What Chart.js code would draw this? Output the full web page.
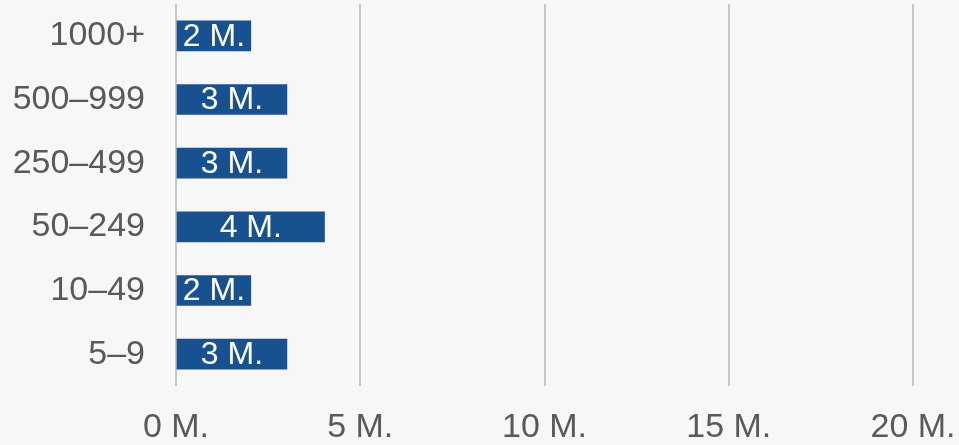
<!DOCTYPE html>
<html>
<head>
<meta charset="utf-8">
<script src="https://cdn.jsdelivr.net/npm/chart.js@4"></script>
<style>
    html, body { margin: 0; padding: 0; background: #f7f7f7; }
    #wrap { width: 959px; height: 445px; position: relative; }
</style>
</head>
<body>
<div id="wrap"><canvas id="chartTamano"></canvas></div>
<script>

    // Datos
    const categorias = ["1000+", "500–999", "250–499", "50–249", "10–49", "5–9"];

    const valores = [2030000, 3010000, 3010000, 4030000, 2030000, 3010000];

    const ticksEje = [0, 5000000, 10000000, 15000000, 20000000];


    const colores = {
        barra: "#17518f",
        texto: "#595959",
        grilla: "#c6c6c6"
    };

    Chart.defaults.font.family = "'Liberation Sans', Arial, sans-serif";

    Chart.defaults.font.size = 34;

    Chart.defaults.color = colores.texto;


    function formatoM(v) {
        return Math.round(v / 1000000) + " M.";
    }


    // Etiquetas blancas dentro de cada barra
    const etiquetasBarras = {
        id: "etiquetasBarras",
        afterDatasetsDraw(chart) {
            const ctx = chart.ctx;
            const meta = chart.getDatasetMeta(0);
            ctx.save();
            ctx.font = "32px 'Liberation Sans', Arial, sans-serif";
            ctx.fillStyle = "#ffffff";
            ctx.textAlign = "center";
            ctx.textBaseline = "middle";
            meta.data.forEach((bar, i) => {
                const x = (bar.base + bar.x) / 2;
                ctx.fillText(formatoM(valores[i]), x, bar.y + 1);
            });
            ctx.restore();
        }
    };


    new Chart(document.getElementById("chartTamano"), {

        type: "bar",

        data: {
            labels: categorias,
            datasets: [{
                data: valores,
                backgroundColor: colores.barra,
                barThickness: 30
            }]
        },

        options: {
            indexAxis: "y",
            responsive: true,
            maintainAspectRatio: false,
            animation: false,
            layout: {
                padding: { top: 4, right: 0, left: 0, bottom: 0 }
            },
            plugins: {
                legend: { display: false },
                tooltip: { enabled: false }
            },
            scales: {
                x: {
                    min: 0,
                    max: 20000000,
                    afterBuildTicks(scale) {
                        scale.ticks = ticksEje.map(v => ({ value: v }));
                    },
                    afterFit(scale) {
                        scale.height = 59;
                        scale.paddingLeft = 0;
                        scale.paddingRight = 46;
                    },
                    ticks: {
                        padding: 21,
                        maxRotation: 0,
                        callback: v => formatoM(v)
                    },
                    grid: {
                        color: colores.grilla,
                        lineWidth: 2,
                        drawTicks: false
                    },
                    border: { display: false }
                },
                y: {
                    afterFit(scale) {
                        scale.width = 176;
                        scale.paddingTop = 0;
                        scale.paddingBottom = 0;
                    },
                    ticks: {
                        padding: 31
                    },
                    grid: { display: false, drawTicks: false },
                    border: { display: false }
                }
            }
        },

        plugins: [etiquetasBarras]

    });

</script>
</body>
</html>
